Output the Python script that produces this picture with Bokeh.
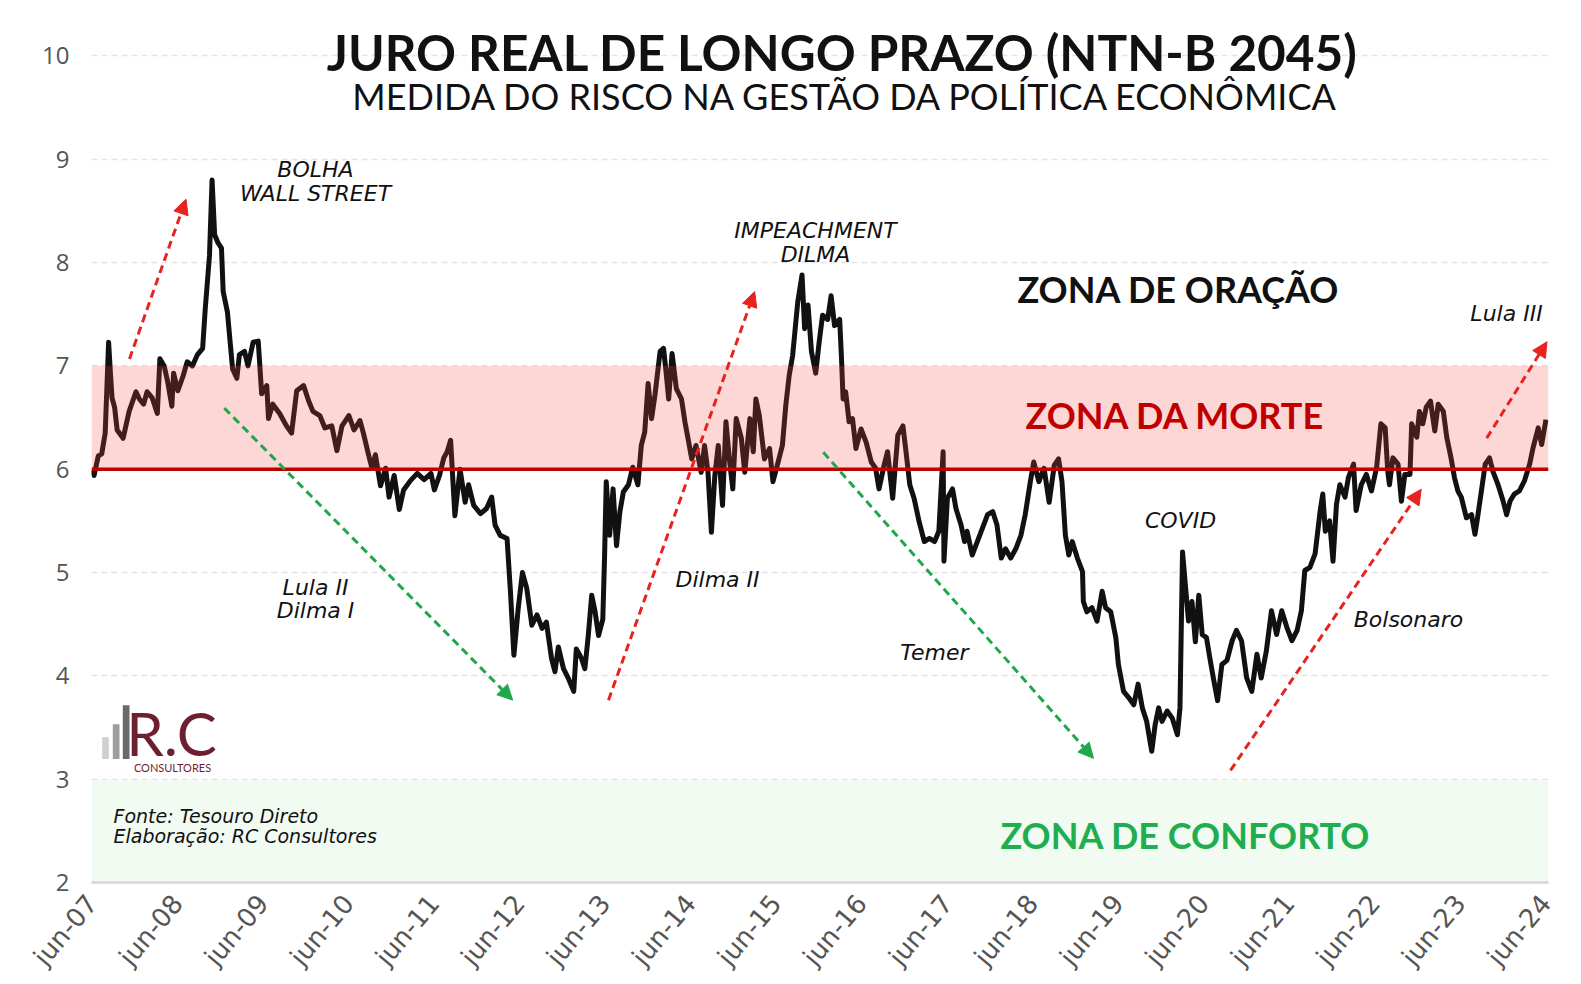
import math
from bokeh.plotting import figure
from bokeh.models import (Range1d, FixedTicker, CustomJSTickFormatter, BoxAnnotation, Span,
                          Label, Arrow, NormalHead, ColumnDataSource)
from bokeh.embed import file_html
from bokeh.resources import INLINE

# ---------------- data (decimal year, real yield % a.a.) ----------------
years = [
    2007.42, 2007.44, 2007.49, 2007.53, 2007.57, 2007.61, 2007.63, 2007.65, 2007.68, 2007.71,
    2007.78, 2007.85, 2007.93, 2007.97, 2008.02, 2008.06, 2008.12, 2008.18, 2008.21, 2008.26,
    2008.30, 2008.35, 2008.37, 2008.42, 2008.48, 2008.53, 2008.59, 2008.65, 2008.71, 2008.74,
    2008.79, 2008.82, 2008.85, 2008.89, 2008.93, 2008.95, 2009.00, 2009.06, 2009.11, 2009.14,
    2009.20, 2009.24, 2009.30, 2009.36, 2009.40, 2009.46, 2009.48, 2009.53, 2009.61, 2009.69,
    2009.75, 2009.81, 2009.89, 2009.95, 2010.00, 2010.08, 2010.14, 2010.22, 2010.28, 2010.34,
    2010.42, 2010.48, 2010.55, 2010.59, 2010.65, 2010.69, 2010.73, 2010.79, 2010.85, 2010.89,
    2010.95, 2011.01, 2011.06, 2011.14, 2011.22, 2011.30, 2011.38, 2011.42, 2011.48, 2011.53,
    2011.57, 2011.61, 2011.66, 2011.72, 2011.78, 2011.82, 2011.88, 2011.96, 2012.03, 2012.09,
    2012.13, 2012.19, 2012.27, 2012.31, 2012.35, 2012.40, 2012.45, 2012.50, 2012.56, 2012.62,
    2012.68, 2012.73, 2012.79, 2012.83, 2012.87, 2012.93, 2012.99, 2013.05, 2013.08, 2013.14,
    2013.18, 2013.22, 2013.26, 2013.30, 2013.34, 2013.39, 2013.41, 2013.43, 2013.47, 2013.51,
    2013.55, 2013.59, 2013.63, 2013.69, 2013.74, 2013.80, 2013.84, 2013.88, 2013.92, 2013.96,
    2014.00, 2014.06, 2014.10, 2014.13, 2014.16, 2014.20, 2014.25, 2014.31, 2014.35, 2014.39,
    2014.43, 2014.48, 2014.54, 2014.58, 2014.62, 2014.66, 2014.70, 2014.74, 2014.79, 2014.83,
    2014.87, 2014.91, 2014.95, 2015.01, 2015.05, 2015.11, 2015.15, 2015.18, 2015.22, 2015.28,
    2015.34, 2015.38, 2015.44, 2015.49, 2015.53, 2015.57, 2015.61, 2015.67, 2015.72, 2015.75,
    2015.79, 2015.83, 2015.88, 2015.92, 2015.96, 2016.02, 2016.06, 2016.10, 2016.16, 2016.18,
    2016.20, 2016.23, 2016.27, 2016.31, 2016.35, 2016.41, 2016.47, 2016.53, 2016.58, 2016.62,
    2016.68, 2016.72, 2016.78, 2016.84, 2016.90, 2016.94, 2016.98, 2017.03, 2017.09, 2017.15,
    2017.21, 2017.27, 2017.32, 2017.37, 2017.38, 2017.42, 2017.48, 2017.52, 2017.58, 2017.62,
    2017.65, 2017.71, 2017.77, 2017.83, 2017.89, 2017.95, 2018.00, 2018.05, 2018.10, 2018.16,
    2018.22, 2018.28, 2018.33, 2018.39, 2018.43, 2018.49, 2018.55, 2018.61, 2018.67, 2018.72,
    2018.76, 2018.80, 2018.84, 2018.88, 2018.94, 2019.00, 2019.01, 2019.05, 2019.11, 2019.17,
    2019.23, 2019.27, 2019.33, 2019.39, 2019.42, 2019.48, 2019.54, 2019.60, 2019.65, 2019.70,
    2019.75, 2019.81, 2019.85, 2019.89, 2019.93, 2019.99, 2020.05, 2020.11, 2020.14, 2020.17,
    2020.20, 2020.24, 2020.28, 2020.32, 2020.36, 2020.40, 2020.45, 2020.49, 2020.53, 2020.58,
    2020.63, 2020.69, 2020.75, 2020.80, 2020.86, 2020.92, 2020.98, 2021.04, 2021.09, 2021.15,
    2021.21, 2021.27, 2021.33, 2021.39, 2021.45, 2021.51, 2021.56, 2021.60, 2021.66, 2021.72,
    2021.78, 2021.81, 2021.84, 2021.89, 2021.93, 2021.97, 2022.01, 2022.07, 2022.11, 2022.17,
    2022.20, 2022.26, 2022.32, 2022.38, 2022.44, 2022.49, 2022.54, 2022.57, 2022.59, 2022.63,
    2022.69, 2022.73, 2022.77, 2022.83, 2022.85, 2022.91, 2022.94, 2022.98, 2023.02, 2023.07,
    2023.12, 2023.16, 2023.22, 2023.26, 2023.31, 2023.35, 2023.39, 2023.43, 2023.49, 2023.55,
    2023.59, 2023.62, 2023.66, 2023.71, 2023.76, 2023.80, 2023.86, 2023.92, 2023.96, 2024.00,
    2024.05, 2024.11, 2024.17, 2024.23, 2024.27, 2024.33, 2024.37, 2024.42,
]
real_yield = [
    5.99, 5.94, 6.13, 6.15, 6.35, 7.23, 6.95, 6.69, 6.60, 6.38,
    6.30, 6.56, 6.75, 6.68, 6.63, 6.75, 6.69, 6.54, 7.07, 7.00,
    6.85, 6.61, 6.93, 6.76, 6.90, 7.04, 7.00, 7.11, 7.17, 7.55,
    8.07, 8.80, 8.27, 8.19, 8.14, 7.72, 7.52, 6.97, 6.88, 7.11,
    7.14, 7.00, 7.23, 7.24, 6.73, 6.81, 6.49, 6.63, 6.54, 6.42,
    6.35, 6.76, 6.81, 6.66, 6.56, 6.52, 6.40, 6.42, 6.18, 6.42,
    6.52, 6.38, 6.47, 6.35, 6.14, 6.01, 6.14, 5.84, 6.01, 5.73,
    5.94, 5.61, 5.80, 5.89, 5.96, 5.90, 5.96, 5.80, 5.94, 6.11,
    6.17, 6.28, 5.55, 6.00, 5.68, 5.85, 5.65, 5.57, 5.62, 5.73,
    5.46, 5.36, 5.33, 4.81, 4.20, 4.65, 5.00, 4.85, 4.49, 4.59,
    4.46, 4.52, 4.17, 4.04, 4.28, 4.07, 3.97, 3.85, 4.26, 4.17,
    4.07, 4.39, 4.78, 4.62, 4.39, 4.55, 5.14, 5.88, 5.36, 5.81,
    5.26, 5.59, 5.78, 5.85, 6.02, 5.85, 6.23, 6.36, 6.83, 6.49,
    6.72, 7.14, 7.17, 6.94, 6.68, 7.12, 6.78, 6.68, 6.46, 6.28,
    6.10, 6.23, 5.97, 6.23, 5.97, 5.39, 5.94, 6.23, 5.65, 6.46,
    6.10, 5.81, 6.49, 6.30, 5.97, 6.49, 6.17, 6.68, 6.52, 6.10,
    6.20, 5.88, 6.07, 6.23, 6.62, 6.91, 7.10, 7.62, 7.88, 7.36,
    7.59, 7.14, 6.93, 7.23, 7.49, 7.45, 7.68, 7.39, 7.45, 7.10,
    6.68, 6.75, 6.46, 6.49, 6.20, 6.39, 6.26, 6.07, 6.01, 5.81,
    6.04, 6.17, 5.72, 6.33, 6.42, 6.14, 5.85, 5.72, 5.49, 5.30,
    5.33, 5.30, 5.40, 6.17, 5.11, 5.72, 5.81, 5.62, 5.46, 5.30,
    5.40, 5.17, 5.30, 5.43, 5.56, 5.59, 5.46, 5.14, 5.23, 5.14,
    5.23, 5.36, 5.56, 5.88, 6.07, 5.88, 6.01, 5.68, 6.04, 6.10,
    5.88, 5.36, 5.17, 5.30, 5.14, 5.01, 4.72, 4.62, 4.66, 4.53,
    4.82, 4.66, 4.62, 4.37, 4.11, 3.85, 3.79, 3.72, 3.92, 3.69,
    3.56, 3.27, 3.53, 3.69, 3.56, 3.66, 3.59, 3.43, 3.69, 5.20,
    4.91, 4.53, 4.72, 4.33, 4.78, 4.40, 4.37, 4.17, 3.98, 3.76,
    4.11, 4.15, 4.34, 4.44, 4.34, 3.98, 3.85, 4.21, 3.98, 4.24,
    4.63, 4.40, 4.63, 4.47, 4.34, 4.44, 4.63, 5.02, 5.05, 5.18,
    5.60, 5.76, 5.40, 5.50, 5.11, 5.66, 5.85, 5.73, 5.92, 6.05,
    5.60, 5.85, 5.95, 5.79, 6.02, 6.44, 6.40, 5.98, 5.85, 6.11,
    6.05, 5.69, 5.95, 5.95, 6.44, 6.31, 6.56, 6.44, 6.60, 6.66,
    6.37, 6.63, 6.56, 6.31, 6.11, 5.92, 5.79, 5.73, 5.53, 5.56,
    5.37, 5.53, 5.76, 6.05, 6.11, 5.98, 5.85, 5.69, 5.56, 5.69,
    5.76, 5.79, 5.89, 6.05, 6.21, 6.40, 6.24, 6.48,
]

tick_labels = ["jun-07", "jun-08", "jun-09", "jun-10", "jun-11", "jun-12", "jun-13", "jun-14",
               "jun-15", "jun-16", "jun-17", "jun-18", "jun-19", "jun-20", "jun-21", "jun-22",
               "jun-23", "jun-24"]
y_ticks = [2, 3, 4, 5, 6, 7, 8, 9, 10]

death_zone = (6, 7)      # ZONA DA MORTE
comfort_zone = (2, 3)    # ZONA DE CONFORTO
danger_level = 6

# ---------------- layout helpers (page pixels) ----------------
W, H = 1573, 984
X0, X1 = 2007.41, 2024.45
Y0, Y1 = 2.0, 10.45
PL, PR, PT, PB = 91, 1548, 9, 886   # frame edges


def fx(px):
    return X0 + (px - PL) * (X1 - X0) / (PR - PL)


def fy(py):
    return Y0 + (PB - py) * (Y1 - Y0) / (PB - PT)


p = figure(width=W, height=H, output_backend="svg", toolbar_location=None,
           x_range=Range1d(X0, X1), y_range=Range1d(Y0, Y1),
           min_border_left=PL, min_border_right=W - PR, min_border_top=PT,
           min_border_bottom=H - PB)
p.outline_line_color = None
p.background_fill_color = "white"
p.border_fill_color = "white"

# axes
tick_pos = [2000 + int(t[-2:]) + 5 / 12 for t in tick_labels]
p.xaxis.ticker = FixedTicker(ticks=tick_pos)
p.xaxis.formatter = CustomJSTickFormatter(args=dict(labels=tick_labels, first=tick_pos[0]),
                                          code="return labels[Math.round(tick - first)];")
p.xaxis.major_label_orientation = math.radians(50)
p.xaxis.major_label_text_font = "DejaVu Sans"
p.xaxis.major_label_text_font_size = "26px"
p.xaxis.major_label_text_color = "#555555"
p.xaxis.major_label_standoff = 16
p.xaxis.axis_line_color = "#d6d6d6"
p.xaxis.axis_line_width = 2.5
p.xaxis.major_tick_line_color = None
p.xaxis.minor_tick_line_color = None
p.xaxis.major_tick_out = 0
p.xaxis.major_tick_in = 0

p.yaxis.ticker = FixedTicker(ticks=y_ticks)
p.yaxis.major_label_text_font = "Open Sans"
p.yaxis.major_label_text_font_size = "24px"
p.yaxis.major_label_text_color = "#555555"
p.yaxis.major_label_standoff = 22
p.yaxis.axis_line_color = None
p.yaxis.major_tick_line_color = None
p.yaxis.minor_tick_line_color = None
p.yaxis.major_tick_out = 0
p.yaxis.major_tick_in = 0

p.xgrid.visible = False
p.ygrid.grid_line_color = "#e4e4e4"
p.ygrid.grid_line_dash = "6 4"
p.ygrid.grid_line_width = 1.5

# comfort zone (under the line)
p.add_layout(BoxAnnotation(bottom=comfort_zone[0], top=comfort_zone[1] - 0.01,
                           fill_color="#f1fbf2", fill_alpha=1.0, line_color=None,
                           level="underlay"))

# the series
src = ColumnDataSource(dict(x=years, y=real_yield))
p.line("x", "y", source=src, line_color="#111111", line_width=5, line_join="round")

# death zone (translucent, drawn over the line)
p.add_layout(BoxAnnotation(bottom=death_zone[0], top=death_zone[1], fill_color="#f74444",
                           fill_alpha=0.22, line_color=None))
p.add_layout(Span(location=danger_level, dimension="width", line_color="#c00000",
                  line_width=3.5))

# logo (decorative)
bar_px = [(101.7, 108.3, 740), (112.3, 119.0, 727), (122.3, 129.0, 708)]
p.quad(left=[fx(b[0]) for b in bar_px], right=[fx(b[1]) for b in bar_px],
       top=[fy(b[2]) for b in bar_px], bottom=[fy(762)] * 3,
       fill_color=["#cfcfcf", "#9d9d9d", "#6a6a6a"], line_color=None)


def label(text, px, py, size, color="#111111", style="italic", align="center",
          baseline="middle", font="DejaVu Sans"):
    p.add_layout(Label(x=fx(px), y=fy(py), text=text, text_font=font,
                       text_font_size=f"{size}px", text_color=color, text_font_style=style,
                       text_align=align, text_baseline=baseline))


label("R.C", 171, 736, 60, color="#6b1f30", style="normal", font="Lato")
label("CONSULTORES", 172, 770, 11, color="#6b1f30", style="normal", font="Lato")

# titles
label("JURO REAL DE LONGO PRAZO (NTN-B 2045)", 842, 52, 49.5, style="bold", font="Lato")
label("MEDIDA DO RISCO NA GESTÃO DA POLÍTICA ECONÔMICA", 846, 96, 36, style="normal",
      font="Lato")

# zones
label("ZONA DE ORAÇÃO", 1178, 290, 36, style="bold", font="Lato")
label("ZONA DA MORTE", 1175, 416, 36, color="#c00000", style="bold", font="Lato")
label("ZONA DE CONFORTO", 1185, 838, 36, color="#1fae4f", style="bold", font="Lato")

# events
label("BOLHA", 315, 170, 22)
label("WALL STREET", 315, 194, 22)
label("IMPEACHMENT", 815, 231, 22)
label("DILMA", 815, 255, 22)
label("Lula III", 1506, 314, 22)
label("Lula II", 315, 590, 22)
label("Dilma I", 315, 613, 22)
label("Dilma II", 717, 582, 22)
label("Temer", 934, 655, 22)
label("COVID", 1180, 522, 22)
label("Bolsonaro", 1408, 622, 22)
label("Fonte: Tesouro Direto", 113, 819, 19, align="left")
label("Elaboração: RC Consultores", 113, 839, 19, align="left")

# trend arrows
RED, GREEN = "#e8231f", "#1fa84b"
arrows = [
    ((129, 360), (185.5, 199.6), RED),
    ((223.8, 409.4), (512.2, 702.8), GREEN),
    ((608, 702.8), (754.2, 292.4), RED),
    ((822.8, 453.7), (1093, 761.3), GREEN),
    ((1230, 773.4), (1420.7, 491), RED),
    ((1486.2, 439.6), (1546.5, 342.8), RED),
]
for (sx, sy), (ex, ey), c in arrows:
    p.add_layout(Arrow(x_start=fx(sx), y_start=fy(sy), x_end=fx(ex), y_end=fy(ey),
                       line_color=c, line_width=3, line_dash="8 5",
                       end=NormalHead(size=15, fill_color=c, line_color=c, line_width=1)))

open("out.html", "w").write(file_html(p, INLINE))
